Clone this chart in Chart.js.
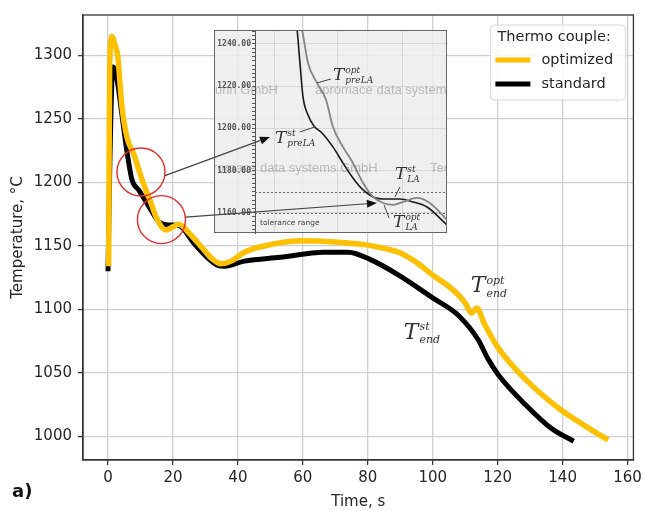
<!DOCTYPE html>
<html>
<head>
<meta charset="utf-8">
<script src="https://cdn.jsdelivr.net/npm/chart.js@4.4.1/dist/chart.umd.min.js"></script>
<style>
  html, body { margin: 0; padding: 0; background: #fff; }
  #wrap { position: relative; width: 646px; height: 511px; }
  #wrap canvas { position: absolute; left: 0; top: 0; }
  #inset { pointer-events: none; }
</style>
</head>
<body>
<div id="wrap">
  <canvas id="main" width="646" height="511"></canvas>
  <canvas id="inset" width="646" height="511"></canvas>
</div>
<script>
// ===== thermocouple readings (time in s, temperature in °C) =====
const timeOpt = [0.2, 0.5, 1.2, 2.3, 3.0, 4.2, 5.8, 8.0, 10.5, 13.2, 15.3, 17.8, 20.0, 21.8, 25.0, 29.5, 32.0, 34.8, 38.0, 42.0, 50.0, 59.5, 70.0, 79.0, 85.0, 89.5, 95.0, 100.0, 105.0, 108.0, 110.0, 112.0, 113.5, 116.0, 120.3, 128.5, 138.8, 147.0, 154.0]
const tempOpt = [1134, 1290, 1315, 1307, 1300, 1262, 1236, 1222, 1202, 1184, 1170, 1162.5, 1165, 1167, 1160, 1147, 1140, 1136, 1138, 1145, 1151, 1154, 1153, 1151, 1148, 1145, 1137, 1127, 1118, 1111, 1105, 1097, 1101, 1088, 1069, 1045, 1022, 1008, 997]

const timeStd = [0, 0.6, 1.5, 2.8, 4.0, 5.8, 7.4, 9.5, 12.6, 15.7, 18.8, 21.8, 26.5, 30.5, 33.5, 36.0, 42.0, 53.0, 66.5, 74.0, 81.0, 89.5, 100.0, 108.0, 114.0, 117.0, 120.3, 128.5, 136.6, 143.4]
const tempStd = [1130, 1220, 1291, 1281, 1259, 1225, 1202, 1194, 1181, 1169, 1166.5, 1166, 1152, 1141, 1135, 1134, 1138, 1141, 1145, 1145, 1139, 1127, 1109, 1095, 1076, 1061, 1048, 1025, 1006, 996]

const xTicks = [0, 20, 40, 60, 80, 100, 120, 140, 160]
const yTicks = [1000, 1050, 1100, 1150, 1200, 1250, 1300]

// zoomed recorder view around the pre-LA / LA section (arbitrary time base 0..100)
const insetTimeOpt = [22.9, 24.5, 27.6, 32.3, 37.0, 40.6, 45.8, 51.0, 56.3, 61.5, 66.7, 71.9, 77.1, 84.4, 91.1, 100]
const insetTempOpt = [1251, 1246.6, 1231, 1221.5, 1213.5, 1200.7, 1191.2, 1183.6, 1174.1, 1167.5, 1164.6, 1163.7, 1165.1, 1167, 1164.6, 1156.6]
const insetTimeStd = [20.3, 21.9, 23.4, 25.0, 27.6, 30.7, 34.9, 40.6, 45.8, 51.0, 56.3, 61.5, 68.8, 75.5, 82.3, 89.6, 100]
const insetTempStd = [1251, 1246.6, 1231, 1214.9, 1206.3, 1201.1, 1197.8, 1191.2, 1183.6, 1176.5, 1170.8, 1167.5, 1166.5, 1166.5, 1165.1, 1162.7, 1154.2]
const insetYTicks = [1160, 1180, 1200, 1220, 1240]
const insetXGrid = [9.9, 43.2, 76.6]
const toleranceLimits = [1160, 1170]

const pts = (xs, ys) => xs.map((x, i) => ({ x, y: ys[i] }))

const TXT = '#262626'
const SANS = 'DejaVu Sans'
const SERIF = 'DejaVu Serif'

// T with super- and subscript, e.g. T^opt_end
function drawSym(ctx, x, y, sup, sub, size) {
  ctx.fillStyle = '#333'
  ctx.textAlign = 'left'
  ctx.textBaseline = 'alphabetic'
  ctx.font = `italic ${size}px "${SERIF}"`
  ctx.fillText('T', x, y)
  const w = ctx.measureText('T').width + 1
  ctx.font = `italic ${Math.round(size * 0.5)}px "${SERIF}"`
  ctx.fillText(sup, x + w, y - size * 0.4)
  ctx.fillText(sub, x + w, y + size * 0.2)
}

function drawArrow(ctx, sx, sy, tx, ty) {
  const ang = Math.atan2(ty - sy, tx - sx)
  const len = 10, half = 4
  const bx = tx - Math.cos(ang) * len, by = ty - Math.sin(ang) * len
  ctx.strokeStyle = '#444'
  ctx.lineWidth = 1.2
  ctx.beginPath(); ctx.moveTo(sx, sy); ctx.lineTo(bx, by); ctx.stroke()
  ctx.fillStyle = '#111'
  ctx.beginPath()
  ctx.moveTo(tx, ty)
  ctx.lineTo(bx - Math.sin(ang) * half, by + Math.cos(ang) * half)
  ctx.lineTo(bx + Math.sin(ang) * half, by - Math.cos(ang) * half)
  ctx.closePath(); ctx.fill()
}

// ring markers on the main curves (data coords) and their radius in px
const rings = [{ t: 10.15, temp: 1208.2, dy: 3.5 }, { t: 16.46, temp: 1170.7, dy: -2.5 }]
const ringRadius = 24

const mainDecor = {
  id: 'mainDecor',
  afterDatasetsDraw(chart) {
    const { ctx, chartArea: a, scales: { x, y } } = chart
    ctx.save()
    ctx.strokeStyle = '#333'
    ctx.lineWidth = 1.3
    ctx.strokeRect(a.left, a.top, a.right - a.left, a.bottom - a.top)
    ctx.strokeStyle = '#e52b2b'
    ctx.lineWidth = 1.4
    rings.forEach(r => {
      ctx.beginPath()
      ctx.arc(x.getPixelForValue(r.t), y.getPixelForValue(r.temp), ringRadius, 0, Math.PI * 2)
      ctx.stroke()
    })
    ctx.restore()
  },
  afterDraw(chart) {
    const { ctx, chartArea: a, scales: { x, y } } = chart
    ctx.save()
    drawSym(ctx, x.getPixelForValue(111.7), y.getPixelForValue(1113.3), 'opt', 'end', 22)
    drawSym(ctx, x.getPixelForValue(91.1), y.getPixelForValue(1076.6), 'st', 'end', 22)

    // legend
    const bx = a.right - 143, by = a.top + 10, bw = 135, bh = 75
    ctx.fillStyle = 'rgba(255,255,255,0.85)'
    ctx.strokeStyle = '#d8d8d8'
    ctx.lineWidth = 1
    ctx.beginPath(); ctx.roundRect(bx, by, bw, bh, 4); ctx.fill(); ctx.stroke()
    ctx.fillStyle = TXT
    ctx.font = `14.5px "${SANS}"`
    ctx.textBaseline = 'middle'
    ctx.textAlign = 'left'
    ctx.fillText('Thermo couple:', bx + 7, by + 12)
    chart.data.datasets.forEach((ds, i) => {
      const ly = by + 35 + i * 24
      ctx.strokeStyle = ds.borderColor
      ctx.lineWidth = 5
      ctx.beginPath(); ctx.moveTo(bx + 5, ly); ctx.lineTo(bx + 40, ly); ctx.stroke()
      ctx.fillStyle = TXT
      ctx.fillText(ds.label, bx + 51, ly)
    })

    ctx.font = `bold 18px "${SANS}"`
    ctx.fillStyle = '#111'
    ctx.textBaseline = 'alphabetic'
    ctx.fillText('a)', 12, 497)
    ctx.restore()
  }
}

const mainChart = new Chart(document.getElementById('main'), {
  type: 'line',
  data: {
    datasets: [
      { label: 'optimized', data: pts(timeOpt, tempOpt), borderColor: '#ffc000', borderWidth: 5.5,
        pointRadius: 0, cubicInterpolationMode: 'monotone', borderJoinStyle: 'round' },
      { label: 'standard', data: pts(timeStd, tempStd), borderColor: '#000000', borderWidth: 5,
        pointRadius: 0, cubicInterpolationMode: 'monotone', borderJoinStyle: 'round' }
    ]
  },
  options: {
    responsive: false, animation: false, events: [],
    layout: { padding: { top: 10, right: 11, left: 0, bottom: 0 } },
    plugins: { legend: { display: false }, tooltip: { enabled: false } },
    scales: {
      x: {
        type: 'linear', min: -7.7, max: 161.8,
        afterBuildTicks: s => { s.ticks = xTicks.map(v => ({ value: v })) },
        afterFit: s => { s.height = 51 },
        grid: { color: '#cfcfcf', lineWidth: 1.3, tickLength: 5, tickColor: '#333', tickWidth: 1.2 },
        border: { color: '#333', width: 1.3 },
        ticks: { color: TXT, font: { family: SANS, size: 15 }, padding: 4, maxRotation: 0, autoSkip: false,
          callback: v => String(v) },
        title: { display: true, text: 'Time, s', color: TXT, font: { family: SANS, size: 15 }, padding: 0 }
      },
      y: {
        type: 'linear', min: 981.25, max: 1332,
        afterBuildTicks: s => { s.ticks = yTicks.map(v => ({ value: v })) },
        afterFit: s => { s.width = 83 },
        grid: { color: '#cfcfcf', lineWidth: 1.3, tickLength: 5, tickColor: '#333', tickWidth: 1.2 },
        border: { color: '#333', width: 1.3 },
        ticks: { color: TXT, font: { family: SANS, size: 15 }, padding: 6, autoSkip: false,
          callback: v => String(v) },
        title: { display: true, text: 'Temperature, °C', color: TXT, font: { family: SANS, size: 15 }, padding: { top: 9, bottom: 0 } }
      }
    }
  },
  plugins: [mainDecor]
})

// ===== inset: recorder screenshot of the LA section =====
const insetLabels = [
  { at: [40.6, 1223], sup: 'opt', sub: 'preLA', lead: [[32.3, 1221.5], [39.6, 1223.4]] },
  { at: [10.4, 1193.1], sup: 'st', sub: 'preLA', lead: [[31.3, 1200.7], [23.4, 1198.3]] },
  { at: [72.9, 1176], sup: 'st', sub: 'LA', lead: [[75.5, 1172.2], [72.9, 1167.5]] },
  { at: [71.9, 1153.3], sup: 'opt', sub: 'LA', lead: [[67.2, 1163.7], [69.8, 1157.5]] }
]
const arrowTips = [[7.8, 1195.9], [63.5, 1164.6]]

const insetDecor = {
  id: 'insetDecor',
  beforeDraw(chart) {
    const { ctx, chartArea: a, scales: { y } } = chart
    const l = y.left
    ctx.save()
    ctx.fillStyle = 'rgba(236,236,236,0.86)'
    ctx.fillRect(l, a.top, a.right - l, a.bottom - a.top)
    ctx.beginPath(); ctx.rect(l, a.top, a.right - l, a.bottom - a.top); ctx.clip()
    ctx.fillStyle = 'rgba(150,150,150,0.6)'
    ctx.font = '13px "Liberation Sans"'
    ctx.textBaseline = 'middle'
    ctx.fillText('uhn GmbH', l + 1, a.top + 60)
    ctx.fillText('apromace data systems GmbH', l + 101, a.top + 60)
    ctx.fillText('romace data systems GmbH', l - 1, a.top + 138)
    ctx.fillText('Tec', l + 216, a.top + 138)
    ctx.restore()
  },
  beforeDatasetsDraw(chart) {
    const { ctx, chartArea: a, scales: { y } } = chart
    ctx.save()
    ctx.strokeStyle = '#666'
    ctx.lineWidth = 1
    ctx.setLineDash([2, 2])
    toleranceLimits.forEach(v => {
      const py = Math.round(y.getPixelForValue(v)) + 0.5
      ctx.beginPath(); ctx.moveTo(a.left, py); ctx.lineTo(a.right, py); ctx.stroke()
    })
    ctx.setLineDash([])
    ctx.fillStyle = '#444'
    ctx.font = `7.5px "${SANS}"`
    ctx.textBaseline = 'middle'
    ctx.fillText('tolerance range', a.left + 5, y.getPixelForValue(toleranceLimits[0]) + 10)
    ctx.restore()
  },
  afterDraw(chart) {
    const { ctx, chartArea: a, scales: { x, y } } = chart
    ctx.save()
    ctx.strokeStyle = '#666'
    ctx.lineWidth = 1
    ctx.strokeRect(y.left + 0.5, a.top + 0.5, a.right - y.left - 1, a.bottom - a.top - 1)

    insetLabels.forEach(lb => {
      ctx.strokeStyle = '#444'
      ctx.lineWidth = 1
      ctx.beginPath()
      ctx.moveTo(x.getPixelForValue(lb.lead[0][0]), y.getPixelForValue(lb.lead[0][1]))
      ctx.lineTo(x.getPixelForValue(lb.lead[1][0]), y.getPixelForValue(lb.lead[1][1]))
      ctx.stroke()
      drawSym(ctx, x.getPixelForValue(lb.at[0]), y.getPixelForValue(lb.at[1]), lb.sup, lb.sub, 17)
    })

    const m = mainChart.scales
    rings.forEach((r, i) => {
      const sx = m.x.getPixelForValue(r.t) + ringRadius
      const sy = m.y.getPixelForValue(r.temp) + r.dy
      drawArrow(ctx, sx, sy, x.getPixelForValue(arrowTips[i][0]), y.getPixelForValue(arrowTips[i][1]))
    })
    ctx.restore()
  }
}

new Chart(document.getElementById('inset'), {
  type: 'line',
  data: {
    datasets: [
      { label: 'optimized', data: pts(insetTimeOpt, insetTempOpt), borderColor: '#858585', borderWidth: 1.8,
        pointRadius: 0, cubicInterpolationMode: 'monotone' },
      { label: 'standard', data: pts(insetTimeStd, insetTempStd), borderColor: '#1a1a1a', borderWidth: 1.6,
        pointRadius: 0, cubicInterpolationMode: 'monotone' }
    ]
  },
  options: {
    responsive: false, animation: false, events: [],
    layout: { padding: { left: 214, top: 30, right: 199, bottom: 278 } },
    plugins: { legend: { display: false }, tooltip: { enabled: false } },
    scales: {
      x: {
        type: 'linear', min: 0, max: 100,
        afterBuildTicks: s => { s.ticks = insetXGrid.map(v => ({ value: v })) },
        afterFit: s => { s.height = 0 },
        ticks: { display: false },
        grid: { color: 'rgba(0,0,0,0.09)', drawTicks: false },
        border: { display: false }
      },
      y: {
        type: 'linear', min: 1150.4, max: 1246.6,
        afterBuildTicks: s => {
          const t = []
          for (let v = 1152; v <= 1246; v += 2) t.push({ value: v })
          s.ticks = t
        },
        afterFit: s => { s.width = 41 },
        grid: {
          color: c => insetYTicks.includes(c.tick && c.tick.value) ? 'rgba(0,0,0,0.1)' : 'rgba(0,0,0,0)',
          tickColor: '#555', tickLength: 3, tickWidth: 1
        },
        border: { color: '#555', width: 1 },
        ticks: {
          autoSkip: false, padding: 1, color: '#555',
          font: { family: 'DejaVu Sans Mono', size: 8, weight: 'bold' },
          callback: v => insetYTicks.includes(v) ? v.toFixed(2) : ''
        }
      }
    }
  },
  plugins: [insetDecor]
})
</script>
</body>
</html>
